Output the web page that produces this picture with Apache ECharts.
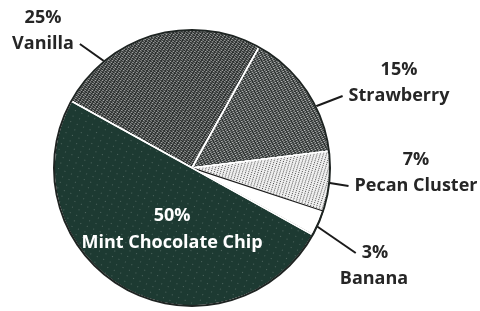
<!DOCTYPE html>
<html>
<head>
<meta charset="utf-8">
<script src="https://cdn.jsdelivr.net/npm/echarts@6/dist/echarts.min.js"></script>
<style>
  html, body { margin: 0; padding: 0; background: #fff; }
  #main { width: 480px; height: 311px; }
</style>
</head>
<body>
<div id="main"></div>
<script>
// flavours, clockwise from the upper-left edge
var flavors = ["Vanilla", "Strawberry", "Pecan Cluster", "Banana", "Mint Chocolate Chip"];
var shares = [25, 15, 7, 3, 50];

var fills = ["#262a29", "#2a2f2e", "#f0f0f0", "#ffffff", "#1d3a32"];
var specks = [
  { symbol: "rect", color: "rgba(255,255,255,0.6)", dashArrayX: [[2, 1]], dashArrayY: [1, 1], symbolSize: 1, rotation: 0.6 },
  { symbol: "rect", color: "rgba(255,255,255,0.68)", dashArrayX: [[2, 1]], dashArrayY: [1, 1], symbolSize: 1, rotation: -0.5 },
  { symbol: "rect", color: "rgba(20,20,20,0.75)", dashArrayX: [[1, 2]], dashArrayY: [1, 1], symbolSize: 1, rotation: 0.3 },
  null,
  { symbol: "circle", color: "rgba(255,255,255,0.3)", dashArrayX: [[1, 6]], dashArrayY: [1, 5], symbolSize: 1, rotation: 0.4 }
];

// label placement (centre of each text line)
var pctSpots = { "Vanilla": [43, 18], "Strawberry": [399, 70], "Pecan Cluster": [416, 160], "Banana": [375, 253] };
var nameSpots = { "Vanilla": [43, 44], "Strawberry": [399, 96], "Pecan Cluster": [416, 186], "Banana": [374, 279] };

// which label part carries the leader line, and how deep into the pie it reaches
var labelGroups = [
  { fmt: "{c}%", spots: pctSpots, radius: 120, show: ["Vanilla", "Strawberry", "Pecan Cluster", "Banana"], lines: ["Banana"] },
  { fmt: "{b}", spots: nameSpots, radius: 58, show: ["Vanilla", "Strawberry"], lines: ["Vanilla", "Strawberry"] },
  { fmt: "{b}", spots: nameSpots, radius: 115, show: ["Pecan Cluster", "Banana"], lines: ["Pecan Cluster"] }
];

var chart = echarts.init(document.getElementById("main"));

var fillData = flavors.map(function (name, i) {
  var style = { color: fills[i], borderColor: "#ffffff", borderWidth: 1.5 };
  if (specks[i]) style.decal = specks[i];
  if (name === "Banana") { style.borderColor = "#1a1a1a"; style.borderWidth = 1.2; }
  var item = { name: name, value: shares[i], itemStyle: style };
  if (name === "Mint Chocolate Chip") {
    item.label = {
      show: true,
      position: "inside",
      offset: [15, -2],
      color: "#ffffff",
      fontSize: 18,
      fontWeight: "bold",
      lineHeight: 27,
      formatter: "{c}%\n{b}"
    };
  }
  return item;
});

var series = [
  {
    type: "pie",
    center: ["40%", "54%"],
    radius: 138,
    startAngle: 151,
    clockwise: true,
    silent: true,
    data: fillData,
    label: { show: false },
    labelLine: { show: false }
  },
  {
    // outline ring
    type: "pie",
    center: ["40%", "54%"],
    radius: [137, 139],
    silent: true,
    label: { show: false },
    labelLine: { show: false },
    itemStyle: { color: "#1e2422" },
    data: [{ name: "ring", value: 1 }]
  }
];

// transparent copies of the pie that carry the outside labels
labelGroups.forEach(function (g) {
  series.push({
    type: "pie",
    center: ["40%", "54%"],
    radius: g.radius,
    startAngle: 151,
    clockwise: true,
    silent: true,
    itemStyle: { color: "rgba(0,0,0,0)" },
    data: flavors.map(function (name, i) {
      return {
        name: name,
        value: shares[i],
        label: { show: g.show.indexOf(name) >= 0 },
        labelLine: { show: g.lines.indexOf(name) >= 0 }
      };
    }),
    label: {
      position: "outside",
      color: "#262626",
      fontSize: 18,
      fontWeight: "bold",
      lineHeight: 24,
      padding: [0, 6],
      align: "center",
      formatter: g.fmt
    },
    labelLine: {
      length: 10,
      length2: 0,
      lineStyle: { color: "#1a1a1a", width: 2 }
    },
    labelLayout: function (p) {
      var spot = g.spots[flavors[p.dataIndex]];
      if (!spot) return {};
      return { x: spot[0], y: spot[1], align: "center", verticalAlign: "middle" };
    }
  });
});

chart.setOption({
  animation: false,
  textStyle: { fontFamily: "Open Sans" },
  series: series
});
</script>
</body>
</html>
